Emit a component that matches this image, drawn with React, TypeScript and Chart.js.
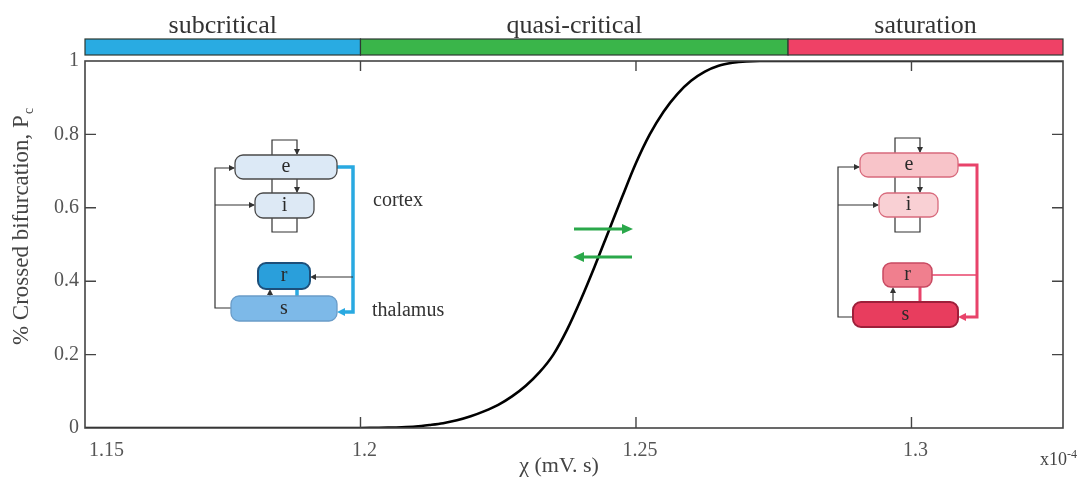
import React, { useEffect, useRef } from 'react';
import { Chart, registerables } from 'chart.js';

Chart.register(...registerables);

// ---- data ----
const chiValues = [
  1.15, 1.2, 1.2025, 1.205, 1.2075, 1.21, 1.2125, 1.215, 1.2175, 1.22, 1.2225, 1.225, 1.2275, 1.23,
  1.2325, 1.235, 1.2375, 1.24, 1.2425, 1.245, 1.2475, 1.25, 1.2525, 1.255, 1.2575, 1.26, 1.2625,
  1.265, 1.2675, 1.27, 1.2725, 1.275, 1.3275,
];
const pcValues = [
  0, 0, 0.0005, 0.001, 0.002, 0.004, 0.008, 0.013, 0.021, 0.032, 0.046, 0.063, 0.086, 0.115,
  0.152, 0.2, 0.268, 0.35, 0.44, 0.535, 0.63, 0.722, 0.8, 0.862, 0.91, 0.946, 0.971,
  0.987, 0.995, 0.999, 1, 1, 1,
];
const xTickValues = [1.15, 1.2, 1.25, 1.3];
const yTickValues = [0, 0.2, 0.4, 0.6, 0.8, 1];
const xMin = 1.15;
const xMax = 1.3275;
const regionBounds = [1.15, 1.2, 1.2776, 1.3275];
const regionLabels = ['subcritical', 'quasi-critical', 'saturation'];
const regionColors = ['#29abe2', '#3ab54a', '#ef4166'];

const SERIF = '"Liberation Serif", "Times New Roman", serif';

type BoxDef = { x: number; y: number; w: number; h: number; fill: string; stroke: string; lw: number; label: string };
type Diagram = {
  L: number; loopTop: number; xA: number; xB: number; iBot: number; R: number;
  eExitY: number; sEntryY: number; rY: number; rLinkArrow: boolean; sLeftY: number; eEntryY: number; iEntryY: number;
  accent: string; accentW: number; rLinkColor: string; rLinkW: number;
  e: BoxDef; i: BoxDef; r: BoxDef; s: BoxDef;
};

const leftDiagram: Diagram = {
  L: 215, loopTop: 140, xA: 272, xB: 297, iBot: 232, R: 353,
  eExitY: 167, sEntryY: 312, rY: 277, rLinkArrow: true, sLeftY: 308, eEntryY: 168, iEntryY: 205,
  accent: '#29a9e1', accentW: 3.5, rLinkColor: '#333', rLinkW: 1.2,
  e: { x: 235, y: 155, w: 102, h: 24, fill: '#dce9f6', stroke: '#4a4a4a', lw: 1.3, label: 'e' },
  i: { x: 255, y: 193, w: 59, h: 25, fill: '#dde9f5', stroke: '#4a4a4a', lw: 1.3, label: 'i' },
  r: { x: 258, y: 263, w: 52, h: 26, fill: '#2a9fdb', stroke: '#1d4f7a', lw: 2, label: 'r' },
  s: { x: 231, y: 296, w: 106, h: 25, fill: '#7db9e8', stroke: '#6a9cc8', lw: 1.3, label: 's' },
};

const rightDiagram: Diagram = {
  L: 838, loopTop: 138, xA: 895, xB: 920, iBot: 232, R: 977,
  eExitY: 165, sEntryY: 317, rY: 275, rLinkArrow: false, sLeftY: 317, eEntryY: 167, iEntryY: 205,
  accent: '#e8436a', accentW: 3, rLinkColor: '#e8436a', rLinkW: 1.5,
  e: { x: 860, y: 153, w: 98, h: 24, fill: '#f8c4c9', stroke: '#d86a7c', lw: 1.3, label: 'e' },
  i: { x: 879, y: 193, w: 59, h: 24, fill: '#f9d0d4', stroke: '#d86a7c', lw: 1.3, label: 'i' },
  r: { x: 883, y: 263, w: 49, h: 24, fill: '#f07f8e', stroke: '#c84a62', lw: 1.5, label: 'r' },
  s: { x: 853, y: 302, w: 105, h: 25, fill: '#e83d5e', stroke: '#9e1f3a', lw: 2, label: 's' },
};

function arrowHead(ctx: CanvasRenderingContext2D, x1: number, y1: number, x2: number, y2: number, color: string, len: number, wid: number) {
  const a = Math.atan2(y2 - y1, x2 - x1);
  ctx.save();
  ctx.fillStyle = color;
  ctx.beginPath();
  ctx.moveTo(x2, y2);
  ctx.lineTo(x2 - len * Math.cos(a) + wid * Math.sin(a), y2 - len * Math.sin(a) - wid * Math.cos(a));
  ctx.lineTo(x2 - len * Math.cos(a) - wid * Math.sin(a), y2 - len * Math.sin(a) + wid * Math.cos(a));
  ctx.closePath();
  ctx.fill();
  ctx.restore();
}

function poly(ctx: CanvasRenderingContext2D, pts: number[][], color: string, w: number) {
  ctx.save();
  ctx.strokeStyle = color;
  ctx.lineWidth = w;
  ctx.lineJoin = 'miter';
  ctx.beginPath();
  pts.forEach((p, k) => (k === 0 ? ctx.moveTo(p[0], p[1]) : ctx.lineTo(p[0], p[1])));
  ctx.stroke();
  ctx.restore();
}

function drawBox(ctx: CanvasRenderingContext2D, b: BoxDef) {
  ctx.save();
  ctx.beginPath();
  (ctx as any).roundRect(b.x, b.y, b.w, b.h, 8);
  ctx.fillStyle = b.fill;
  ctx.fill();
  ctx.lineWidth = b.lw;
  ctx.strokeStyle = b.stroke;
  ctx.stroke();
  ctx.fillStyle = '#2a2a2a';
  ctx.font = `20px ${SERIF}`;
  ctx.textAlign = 'center';
  ctx.textBaseline = 'middle';
  ctx.fillText(b.label, b.x + b.w / 2, b.y + b.h / 2);
  ctx.restore();
}

function drawDiagram(ctx: CanvasRenderingContext2D, d: Diagram) {
  const k = '#333';
  const lw = 1.2;
  poly(ctx, [[d.s.x, d.sLeftY], [d.L, d.sLeftY], [d.L, d.eEntryY], [d.e.x - 1, d.eEntryY]], k, lw);
  arrowHead(ctx, d.L, d.eEntryY, d.e.x, d.eEntryY, k, 6, 3);
  poly(ctx, [[d.L, d.iEntryY], [d.i.x - 1, d.iEntryY]], k, lw);
  arrowHead(ctx, d.L, d.iEntryY, d.i.x, d.iEntryY, k, 6, 3);
  poly(ctx, [[d.xA, d.e.y], [d.xA, d.loopTop], [d.xB, d.loopTop], [d.xB, d.e.y - 1]], k, lw);
  arrowHead(ctx, d.xB, d.loopTop, d.xB, d.e.y, k, 6, 3);
  poly(ctx, [[d.xA, d.e.y + d.e.h], [d.xA, d.i.y]], k, lw);
  poly(ctx, [[d.xB, d.e.y + d.e.h], [d.xB, d.i.y - 1]], k, lw);
  arrowHead(ctx, d.xB, d.e.y + d.e.h, d.xB, d.i.y, k, 6, 3);
  poly(ctx, [[d.xA, d.i.y + d.i.h], [d.xA, d.iBot], [d.xB, d.iBot], [d.xB, d.i.y + d.i.h]], k, lw);
  poly(ctx, [[d.e.x + d.e.w, d.eExitY], [d.R, d.eExitY], [d.R, d.sEntryY], [d.s.x + d.s.w + 6, d.sEntryY]], d.accent, d.accentW);
  arrowHead(ctx, d.R, d.sEntryY, d.s.x + d.s.w, d.sEntryY, d.accent, 8, 4);
  if (d.rLinkArrow) {
    poly(ctx, [[d.R, d.rY], [d.r.x + d.r.w + 2, d.rY]], d.rLinkColor, d.rLinkW);
    arrowHead(ctx, d.R, d.rY, d.r.x + d.r.w, d.rY, d.rLinkColor, 6, 3);
  } else {
    poly(ctx, [[d.r.x + d.r.w, d.rY], [d.R, d.rY]], d.rLinkColor, d.rLinkW);
  }
  const xs1 = d.xA - 2;
  poly(ctx, [[xs1, d.s.y], [xs1, d.r.y + d.r.h + 2]], k, lw);
  arrowHead(ctx, xs1, d.s.y, xs1, d.r.y + d.r.h, k, 6, 3);
  poly(ctx, [[d.xB, d.s.y], [d.xB, d.r.y + d.r.h]], d.accent, d.accentW);
  drawBox(ctx, d.e);
  drawBox(ctx, d.i);
  drawBox(ctx, d.r);
  drawBox(ctx, d.s);
}

const decorPlugin = {
  id: 'decor',
  beforeDraw(chart: any) {
    const { ctx, width, height } = chart;
    ctx.save();
    ctx.fillStyle = '#ffffff';
    ctx.fillRect(0, 0, width, height);
    ctx.restore();
  },
  afterDraw(chart: any) {
    const ctx: CanvasRenderingContext2D = chart.ctx;
    const { left, right, top, bottom } = chart.chartArea;
    const xs = chart.scales.x;
    const ys = chart.scales.y;
    ctx.save();
    ctx.strokeStyle = '#444';
    ctx.lineWidth = 1.6;
    ctx.strokeRect(left, top, right - left, bottom - top);
    ctx.lineWidth = 1.4;
    xTickValues.filter((v) => v > xMin && v < xMax).forEach((v) => {
      const p = xs.getPixelForValue(v);
      ctx.beginPath();
      ctx.moveTo(p, bottom); ctx.lineTo(p, bottom - 11);
      ctx.moveTo(p, top); ctx.lineTo(p, top + 10);
      ctx.stroke();
    });
    yTickValues.filter((v) => v > 0 && v < 1).forEach((v) => {
      const p = ys.getPixelForValue(v);
      ctx.beginPath();
      ctx.moveTo(left, p); ctx.lineTo(left + 11, p);
      ctx.moveTo(right, p); ctx.lineTo(right - 11, p);
      ctx.stroke();
    });
    const barTop = top - 22;
    const barH = 16;
    for (let i = 0; i < regionLabels.length; i++) {
      const x0 = xs.getPixelForValue(regionBounds[i]);
      const x1 = xs.getPixelForValue(regionBounds[i + 1]);
      ctx.fillStyle = regionColors[i];
      ctx.fillRect(x0, barTop, x1 - x0, barH);
      ctx.strokeStyle = '#2d3a33';
      ctx.lineWidth = 1.2;
      ctx.strokeRect(x0, barTop, x1 - x0, barH);
      ctx.fillStyle = '#333';
      ctx.font = `26px ${SERIF}`;
      ctx.textAlign = 'center';
      ctx.textBaseline = 'alphabetic';
      ctx.fillText(regionLabels[i], (x0 + x1) / 2, 33);
    }
    drawDiagram(ctx, leftDiagram);
    drawDiagram(ctx, rightDiagram);
    ctx.fillStyle = '#333';
    ctx.font = `20px ${SERIF}`;
    ctx.textAlign = 'left';
    ctx.textBaseline = 'middle';
    ctx.fillText('cortex', 373, 201);
    ctx.fillText('thalamus', 372, 311);
    const g = '#2aa84a';
    poly(ctx, [[574, 229], [624, 229]], g, 3);
    arrowHead(ctx, 574, 229, 633, 229, g, 11, 5);
    poly(ctx, [[632, 257], [583, 257]], g, 3);
    arrowHead(ctx, 632, 257, 573, 257, g, 11, 5);
    ctx.fillStyle = '#444';
    ctx.font = `22px ${SERIF}`;
    ctx.textAlign = 'center';
    ctx.textBaseline = 'alphabetic';
    ctx.fillText('\u03c7 (mV. s)', 559, 472);
    ctx.textAlign = 'left';
    ctx.font = `18px ${SERIF}`;
    ctx.fillText('x10', 1040, 465);
    const wx = ctx.measureText('x10').width;
    ctx.font = `12px ${SERIF}`;
    ctx.fillText('-4', 1040 + wx, 458);
    ctx.save();
    ctx.translate(28, 227);
    ctx.rotate(-Math.PI / 2);
    ctx.font = `23px ${SERIF}`;
    const main = '% Crossed bifurcation, P';
    const mw = ctx.measureText(main).width;
    ctx.font = `14px ${SERIF}`;
    const sw = ctx.measureText('c').width;
    const start = -(mw + sw) / 2;
    ctx.font = `23px ${SERIF}`;
    ctx.fillText(main, start, 0);
    ctx.font = `14px ${SERIF}`;
    ctx.fillText('c', start + mw + 1, 5);
    ctx.restore();
    ctx.restore();
  },
};

export default function App() {
  const canvasRef = useRef<HTMLCanvasElement | null>(null);
  useEffect(() => {
    const canvas = canvasRef.current;
    if (!canvas) return;
    const chart = new Chart(canvas, {
      type: 'line',
      data: {
        datasets: [
          {
            data: chiValues.map((x, i) => ({ x, y: pcValues[i] })),
            borderColor: '#000',
            borderWidth: 2.6,
            pointRadius: 0,
            fill: false,
            cubicInterpolationMode: 'monotone',
          },
        ],
      },
      options: {
        responsive: false,
        animation: false,
        events: [],
        layout: { padding: { top: 61, right: 25, left: 0, bottom: 0 } },
        plugins: { legend: { display: false }, tooltip: { enabled: false }, title: { display: false } },
        scales: {
          x: {
            type: 'linear',
            min: xMin,
            max: xMax,
            afterBuildTicks: (s: any) => {
              s.ticks = [...xTickValues, xMax].map((v) => ({ value: v }));
            },
            afterFit: (s: any) => {
              s.height = 49;
            },
            grid: { display: false, drawTicks: false },
            border: { display: false },
            ticks: {
              autoSkip: false,
              maxRotation: 0,
              minRotation: 0,
              align: 'inner',
              labelOffset: 4,
              padding: 11,
              color: '#555',
              font: { family: SERIF, size: 20 },
              callback: (v: any) => (xTickValues.includes(v) ? String(v) : ''),
            },
          },
          y: {
            type: 'linear',
            min: 0,
            max: 1,
            afterBuildTicks: (s: any) => {
              s.ticks = yTickValues.map((v) => ({ value: v }));
            },
            afterFit: (s: any) => {
              s.width = 85;
            },
            grid: { display: false, drawTicks: false },
            border: { display: false },
            ticks: {
              padding: 6,
              color: '#555',
              font: { family: SERIF, size: 20 },
              callback: (v: any) => String(v),
            },
          },
        },
      } as any,
      plugins: [decorPlugin],
    });
    return () => chart.destroy();
  }, []);
  return (
    <div style={{ position: 'fixed', left: 0, top: 0, width: 1088, height: 477, background: '#fff' }}>
      <canvas ref={canvasRef} width={1088} height={477} style={{ display: 'block' }} />
    </div>
  );
}
